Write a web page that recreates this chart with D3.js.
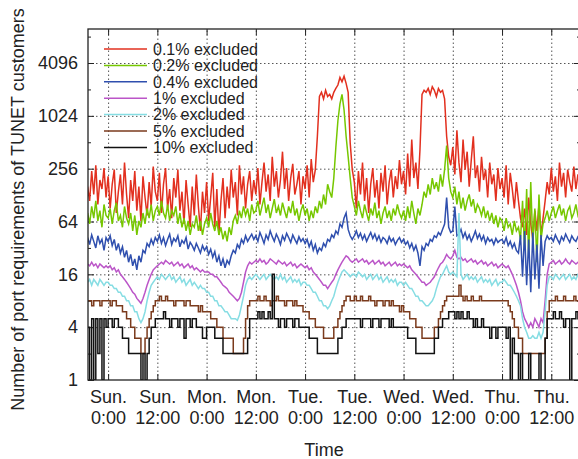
<html>

<head>
    <script src="https://d3js.org/d3.v7.min.js"></script>

    <style>
        body {
            margin: 0;
            background: #fff;
        }

        text {
            font-family: "Liberation Sans", Arial, sans-serif;
            fill: #222;
        }

        .gridlines line {
            stroke: #555;
            stroke-dasharray: 1.5, 2.5;
        }

        .gridlines .domain {
            stroke: none;
        }

        .axis .domain {
            stroke: none;
        }

        .axis line {
            stroke: #222;
        }
    </style>

</head>

<body>
    <svg id="chartArea" height="459" width="578"></svg>
    <script>
        // samples every half hour, first one at Sat 19:00 (hours relative to Sun 0:00)
        const startHour = -5;
        const stepHours = 0.5;

        const seriesNames = ["0.1% excluded", "0.2% excluded", "0.4% excluded", "1% excluded",
            "2% excluded", "5% excluded", "10% excluded"];

        const excl01 = [
            160, 110, 240, 130, 280, 100, 190, 150, 260, 120,
            210, 90, 170, 250, 80, 140, 220, 100, 300, 130, 70, 190, 110, 240, 85, 160, 65, 210, 120, 75, 180, 95, 270, 140,
            110, 230, 80, 170, 260, 90, 150, 70, 200, 120, 250, 85, 140, 60, 190, 100, 55, 160, 75, 220, 95, 50, 140, 80,
            180, 65, 120, 230, 55, 150, 45, 110, 200, 70, 160, 90, 250, 120, 180, 75, 280, 130, 210, 90, 170, 240, 110, 190,
            130, 260, 100, 180, 300, 140, 220, 110, 350, 160, 240, 120, 190, 400, 150, 260, 110, 200, 290, 130, 170, 240, 100, 210,
            150, 280, 120, 330, 180, 250, 600, 1700, 1900, 1600, 2000, 1700, 1800, 1600, 1900, 2100, 2300, 2800, 2500, 2900, 2400, 1900, 500, 250,
            180, 90, 240, 130, 300, 110, 200, 80, 170, 260, 120, 190, 90, 230, 140, 280, 100, 180, 250, 120, 210, 150, 320, 170,
            240, 130, 380, 160, 550, 200, 300, 150, 420, 1800, 2000, 1900, 2100, 1800, 2200, 2000, 1700, 2100, 1900, 2000, 1600, 600, 350, 280,
            450, 220, 700, 300, 180, 550, 250, 400, 160, 320, 600, 200, 280, 140, 350, 190, 250, 120, 300, 170, 220, 110, 260, 150,
            200, 120, 280, 100, 230, 150, 90, 180, 110, 70, 55, 90, 45, 120, 60, 40, 85, 50, 100, 45, 70, 110, 180, 130,
            260, 140, 210, 110, 300, 160, 230, 120, 250, 180, 140, 270, 150, 220, 190
        ];

        const excl02 = [
            80, 60, 95, 70, 110, 65, 85, 55, 100, 75,
            70, 90, 60, 85, 105, 65, 75, 55, 95, 70, 60, 80, 50, 75, 45, 65, 55, 80, 60, 90, 70, 100, 65, 85,
            95, 75, 110, 80, 70, 100, 65, 85, 75, 95, 60, 80, 55, 70, 50, 65, 45, 60, 55, 75, 50, 65, 45, 60,
            70, 55, 80, 60, 50, 65, 45, 55, 40, 50, 38, 55, 45, 65, 75, 60, 85, 70, 95, 75, 90, 65, 100, 80,
            85, 110, 75, 95, 120, 80, 100, 70, 90, 115, 80, 95, 75, 105, 85, 70, 95, 80, 110, 75, 90, 65, 85, 100,
            75, 90, 65, 85, 70, 95, 80, 110, 90, 130, 100, 170, 140, 120, 200, 450, 900, 1400, 1800, 1200, 600, 350, 200, 120,
            95, 75, 110, 85, 70, 100, 80, 65, 90, 75, 105, 70, 85, 60, 80, 95, 70, 85, 65, 90, 75, 100, 80, 70,
            85, 65, 95, 70, 110, 80, 60, 90, 75, 100, 140, 120, 170, 130, 200, 150, 180, 140, 220, 160, 250, 470, 200, 140,
            120, 160, 100, 140, 90, 120, 85, 110, 130, 95, 115, 80, 100, 90, 75, 95, 70, 85, 65, 80, 60, 75, 55, 70,
            65, 50, 70, 55, 60, 45, 65, 50, 55, 40, 110, 30, 150, 25, 180, 35, 90, 22, 130, 40, 60, 70, 85, 65,
            80, 95, 70, 85, 100, 75, 90, 65, 85, 95, 70, 80, 100, 75, 85
        ];

        const excl04 = [
            42, 35, 45, 38, 32, 44, 36, 40, 30, 42,
            38, 44, 34, 40, 30, 36, 28, 33, 25, 30, 22, 27, 20, 24, 18, 26, 22, 30, 28, 36, 33, 40, 35, 42,
            38, 45, 36, 42, 34, 40, 46, 35, 41, 38, 44, 33, 39, 36, 42, 31, 37, 34, 30, 36, 32, 28, 34, 30,
            33, 27, 31, 25, 29, 22, 26, 20, 24, 19, 23, 21, 26, 30, 28, 35, 32, 40, 36, 44, 38, 42, 46, 40,
            44, 38, 48, 42, 36, 45, 40, 50, 43, 38, 46, 41, 35, 44, 39, 47, 42, 37, 45, 40, 36, 43, 38, 41,
            36, 40, 33, 38, 30, 35, 28, 32, 30, 36, 33, 40, 38, 45, 42, 50, 46, 60, 55, 70, 80, 52, 44, 40,
            44, 50, 42, 47, 40, 45, 38, 43, 48, 41, 46, 39, 44, 37, 42, 40, 36, 43, 38, 41, 35, 39, 42, 37,
            40, 35, 38, 32, 36, 30, 34, 28, 20, 33, 30, 36, 34, 40, 38, 44, 42, 48, 45, 52, 60, 120, 55, 48,
            50, 95, 44, 46, 52, 42, 48, 40, 45, 38, 43, 50, 41, 46, 39, 44, 36, 42, 38, 40, 35, 41, 37, 39,
            40, 36, 42, 34, 38, 32, 36, 30, 28, 45, 15, 50, 12, 40, 10, 48, 14, 35, 11, 45, 20, 38, 44, 40,
            42, 38, 45, 40, 36, 43, 39, 46, 41, 37, 44, 40, 38, 43, 41
        ];

        const excl1 = [
            21, 20, 22, 20, 21, 19, 21, 20, 19, 20,
            19, 20, 18, 19, 17, 18, 16, 15, 14, 13, 12, 11, 10, 9.5, 8.5, 8, 7.5, 8.5, 10, 12, 14, 16, 18, 19,
            20, 21, 22, 21, 23, 22, 21, 22, 20, 21, 22, 20, 21, 19, 20, 21, 19, 20, 18, 19, 18, 17, 18, 17,
            17, 17, 16, 16, 15, 15, 14, 13, 12, 11.5, 11, 10, 9.5, 9, 8.5, 8, 8.5, 10, 13, 17, 20, 22, 21, 22,
            23, 22, 24, 22, 23, 21, 22, 24, 23, 22, 21, 23, 22, 21, 22, 20, 21, 22, 20, 21, 19, 20, 21, 20,
            19, 20, 18, 19, 17, 16, 15, 14, 13, 12, 12, 11, 12, 13, 14, 16, 18, 20, 22, 24, 26, 25, 23, 22,
            23, 24, 22, 23, 24, 22, 23, 21, 22, 23, 21, 22, 23, 21, 22, 20, 21, 22, 20, 21, 22, 20, 21, 20,
            21, 20, 19, 20, 18, 17, 16, 15, 14, 13, 13, 12, 12.5, 13, 14, 15, 17, 19, 21, 22, 24, 27, 25, 24,
            26, 30, 25, 24, 25, 23, 24, 22, 23, 24, 22, 23, 21, 22, 23, 21, 22, 20, 21, 22, 20, 21, 19, 20,
            21, 20, 19, 20, 18, 16, 14, 12, 10, 8, 6, 5, 4.5, 4, 4.5, 4, 5, 4.5, 4, 5, 4.5, 8, 16, 21,
            22, 23, 21, 22, 23, 21, 22, 24, 22, 21, 23, 22, 21, 22, 23
        ];

        const excl2 = [
            13, 14, 12, 14, 13, 12, 14, 13, 12, 13,
            13, 12, 12, 11, 11, 10, 10, 9, 9, 8, 8, 7, 7, 6, 6, 5, 4.5, 5, 6, 8, 10, 12, 13, 14,
            15, 14, 16, 15, 14, 15, 16, 14, 15, 13, 14, 15, 13, 14, 12, 13, 14, 12, 13, 12, 11, 12, 11, 11,
            10, 10, 9, 9, 8, 8, 7, 7, 6.5, 6, 6, 5.5, 5, 5, 5, 4.8, 5.5, 7, 9, 12, 14, 15, 14, 15,
            16, 15, 14, 15, 16, 14, 15, 16, 15, 14, 15, 14, 16, 14, 15, 13, 14, 15, 13, 14, 13, 14, 12, 13,
            13, 12, 12, 11, 10, 10, 9, 8, 8, 7, 7, 6.5, 7, 8, 9, 11, 13, 15, 17, 18, 17, 16, 15, 16,
            16, 15, 17, 16, 15, 16, 14, 15, 16, 14, 15, 16, 14, 15, 13, 14, 15, 13, 14, 13, 14, 12, 13, 13,
            12, 13, 12, 11, 11, 10, 9, 9, 8, 8, 7.5, 7, 7, 7.5, 8, 9, 11, 13, 15, 16, 18, 20, 17, 16,
            17, 16, 15, 80, 16, 14, 15, 16, 14, 15, 14, 15, 13, 14, 15, 13, 14, 13, 14, 12, 13, 14, 12, 13,
            13, 14, 13, 12, 12, 11, 10, 9, 8, 7, 5, 4, 3.5, 3, 3, 3.2, 3, 3, 3.5, 3, 3.5, 6, 12, 15,
            15, 14, 16, 15, 14, 15, 16, 14, 15, 16, 14, 15, 14, 16, 15
        ];

        const excl5 = [
            8, 8, 7, 8, 8, 8, 7, 8, 8, 8,
            8, 7, 8, 8, 7, 7, 7, 6, 6, 5, 5, 4, 4, 3, 3, 3, 2, 2, 3, 4, 5, 6, 7, 8,
            8, 9, 8, 8, 9, 8, 8, 8, 7, 8, 8, 8, 8, 7, 8, 8, 7, 7, 7, 7, 6, 7, 6, 6,
            6, 6, 5, 5, 5, 4, 4, 4, 3, 3, 3, 3, 3, 2, 2, 2, 2, 2, 3, 5, 7, 8, 8, 8,
            8, 9, 8, 8, 9, 8, 8, 7, 8, 8, 9, 8, 8, 8, 7, 8, 8, 8, 7, 8, 7, 7, 7, 6,
            6, 6, 5, 5, 5, 4, 4, 4, 4, 3, 3, 3, 3, 3, 4, 4, 5, 6, 7, 8, 9, 9, 8, 8,
            9, 8, 8, 9, 8, 8, 8, 9, 8, 8, 7, 8, 8, 8, 7, 8, 8, 7, 8, 7, 7, 7, 6, 7,
            6, 6, 6, 5, 5, 5, 4, 4, 4, 3, 3, 3, 3, 3, 3, 4, 4, 5, 6, 7, 8, 9, 9, 9,
            9, 9, 9, 12, 9, 8, 9, 8, 8, 9, 8, 8, 8, 9, 8, 8, 8, 8, 8, 8, 8, 8, 8, 8,
            8, 8, 8, 7, 6, 5, 4, 4, 3, 3, 2, 2, 2, 2, 2, 2, 2, 2, 2, 2, 2, 3, 6, 8,
            8, 8, 9, 8, 8, 8, 9, 8, 8, 8, 8, 9, 8, 8, 8
        ];

        const excl10 = [
            4, 1, 5, 1, 5, 2, 5, 1, 5, 4,
            5, 5, 4, 5, 5, 4, 4, 3, 3, 3, 2, 2, 2, 2, 2, 2, 1, 2, 1, 2, 3, 4, 4, 5,
            5, 5, 5, 6, 5, 5, 4, 5, 5, 5, 4, 5, 5, 3, 5, 5, 4, 5, 5, 4, 4, 4, 3, 3,
            4, 4, 4, 4, 3, 3, 3, 3, 2, 2, 2, 2, 2, 2, 2, 2, 2, 2, 2, 2, 3, 5, 5, 5,
            5, 6, 5, 6, 5, 5, 6, 5, 16, 5, 5, 4, 5, 5, 4, 5, 5, 5, 4, 5, 5, 4, 4, 4,
            4, 4, 3, 3, 3, 3, 2, 2, 2, 2, 2, 2, 2, 2, 2, 2, 3, 3, 4, 4, 5, 5, 5, 5,
            5, 5, 5, 4, 5, 5, 5, 5, 4, 5, 5, 5, 4, 5, 5, 5, 5, 4, 5, 4, 4, 4, 4, 4,
            4, 4, 3, 3, 3, 3, 2, 2, 2, 2, 2, 2, 2, 2, 2, 3, 3, 4, 4, 5, 5, 5, 6, 6,
            6, 5, 6, 5, 6, 5, 5, 6, 5, 5, 4, 5, 4, 4, 5, 4, 4, 4, 3, 4, 4, 3, 4, 4,
            4, 4, 3, 4, 1, 3, 2, 2, 1, 2, 1, 1, 1, 2, 1, 1, 1, 1, 2, 1, 1, 3, 5, 5,
            5, 6, 5, 5, 6, 5, 4, 5, 5, 1, 5, 5, 6, 5, 5
        ];

        const allSeries = [excl01, excl02, excl04, excl1, excl2, excl5, excl10];
        const seriesColors = ["#e2301f", "#76c700", "#2f4fae", "#bb55c8", "#86dde3", "#7a3a1c", "#111111"];
        const stepped = [false, false, false, false, false, true, true];

        // x axis ticks (hours from Sun 0:00) and their two-line labels
        const timeTicks = [0, 12, 24, 36, 48, 60, 72, 84, 96, 108];
        const dayLabels = ["Sun.", "Sun.", "Mon.", "Mon.", "Tue.", "Tue.", "Wed.", "Wed.", "Thu.", "Thu."];
        const hourLabels = ["0:00", "12:00", "0:00", "12:00", "0:00", "12:00", "0:00", "12:00", "0:00", "12:00"];

        const yTicks = [1, 4, 16, 64, 256, 1024, 4096];
        const yMinorTicks = [2, 8, 32, 128, 512, 2048, 8192];

        const svg = d3.select("#chartArea");
        const margins = { top: 29, right: -2, bottom: 79, left: 88 };
        const width = +svg.attr("width");
        const height = +svg.attr("height");
        const chartWidth = width - margins.left - margins.right;
        const chartHeight = height - margins.top - margins.bottom;

        const timeScale = d3.scaleLinear()
            .domain([-4.9, 115])
            .range([0, chartWidth]);

        const valueScale = d3.scaleLog().base(2)
            .domain([1, 10000])
            .range([chartHeight, 0]);

        svg.append("defs").append("clipPath")
            .attr("id", "plotClip")
            .append("rect")
            .attr("width", chartWidth)
            .attr("height", chartHeight);

        const chartArea = svg.append("g")
            .attr("transform", `translate(${margins.left},${margins.top})`);

        // dotted gridlines
        chartArea.append("g")
            .attr("class", "gridlines")
            .call(d3.axisLeft(valueScale).tickValues(yTicks.slice(1)).tickFormat("").tickSize(-chartWidth));

        chartArea.append("g")
            .attr("class", "gridlines")
            .attr("transform", `translate(0,${chartHeight})`)
            .call(d3.axisBottom(timeScale).tickValues(timeTicks).tickFormat("").tickSize(-chartHeight));

        // inward ticks on all four sides
        const leftAxis = chartArea.append("g")
            .attr("class", "axis")
            .call(d3.axisLeft(valueScale).tickValues(yTicks).tickFormat(d3.format("d")).tickSize(-6).tickPadding(10));
        leftAxis.selectAll("text").style("font-size", "18px");

        chartArea.append("g")
            .attr("class", "axis")
            .call(d3.axisLeft(valueScale).tickValues(yMinorTicks).tickFormat("").tickSize(-3));

        chartArea.append("g")
            .attr("class", "axis")
            .attr("transform", `translate(${chartWidth},0)`)
            .call(d3.axisRight(valueScale).tickValues(yTicks).tickFormat("").tickSize(-6));

        chartArea.append("g")
            .attr("class", "axis")
            .attr("transform", `translate(${chartWidth},0)`)
            .call(d3.axisRight(valueScale).tickValues(yMinorTicks).tickFormat("").tickSize(-3));

        const bottomAxis = chartArea.append("g")
            .attr("class", "axis")
            .attr("transform", `translate(0,${chartHeight})`)
            .call(d3.axisBottom(timeScale).tickValues(timeTicks).tickFormat("").tickSize(-6));

        chartArea.append("g")
            .attr("class", "axis")
            .call(d3.axisTop(timeScale).tickValues(timeTicks).tickFormat("").tickSize(-6));

        // two-line day / time labels
        bottomAxis.selectAll(".tick").each(function (d, i) {
            const t = d3.select(this).append("text")
                .attr("text-anchor", "middle")
                .style("font-size", "18px");
            t.append("tspan").attr("x", 0).attr("y", 23).text(dayLabels[i]);
            t.append("tspan").attr("x", 0).attr("y", 44).text(hourLabels[i]);
        });

        // legend (drawn before the data, the data runs over it)
        const legend = chartArea.append("g");
        const legendRows = legend.selectAll(".key")
            .data(seriesNames)
            .join("g")
            .attr("class", "key")
            .attr("transform", (d, i) => `translate(16,${20 + i * 16.4})`);

        legendRows.append("line")
            .attr("x1", 0)
            .attr("x2", 43)
            .attr("stroke", (d, i) => seriesColors[i])
            .attr("stroke-width", 1.5);

        legendRows.append("text")
            .attr("x", 49)
            .attr("dy", "0.36em")
            .style("font-size", "16px")
            .text(d => d);

        // data lines, 0.1% first and 10% on top
        const plot = chartArea.append("g").attr("clip-path", "url(#plotClip)");

        plot.selectAll(".lines")
            .data(allSeries)
            .join("path")
            .attr("class", "lines")
            .attr("fill", "none")
            .attr("stroke", (d, i) => seriesColors[i])
            .attr("stroke-width", 1.5)
            .attr("stroke-linejoin", "miter")
            .attr("d", (d, i) => d3.line()
                .x((v, j) => timeScale(startHour + j * stepHours))
                .y(v => valueScale(v))
                .curve(stepped[i] ? d3.curveStepAfter : d3.curveLinear)(d));

        // border
        chartArea.append("rect")
            .attr("width", chartWidth)
            .attr("height", chartHeight)
            .attr("fill", "none")
            .attr("stroke", "#222")
            .attr("stroke-width", 1.3);

        // axis titles
        svg.append("text")
            .attr("transform", `translate(18,${margins.top + chartHeight / 2 + 5}) rotate(-90)`)
            .attr("text-anchor", "middle")
            .attr("dy", "0.35em")
            .style("font-size", "18px")
            .text("Number of port requirements of TUNET customers");

        svg.append("text")
            .attr("x", 324)
            .attr("y", 456)
            .attr("text-anchor", "middle")
            .style("font-size", "18px")
            .text("Time");
    </script>
</body>

</html>
